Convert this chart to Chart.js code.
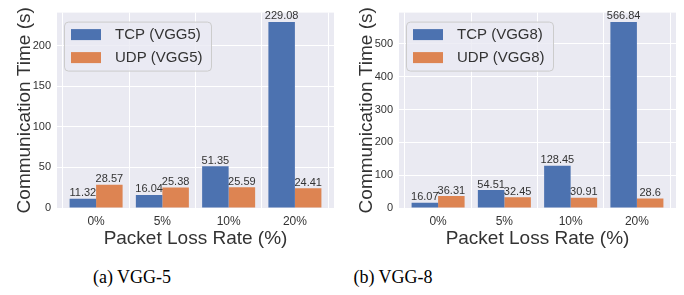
<!DOCTYPE html>
<html>
<head>
<meta charset="utf-8">
<script src="https://cdn.jsdelivr.net/npm/chart.js@4.4.1/dist/chart.umd.min.js"></script>
<style>
body { margin: 0; background: #fff; width: 684px; height: 295px; position: relative; overflow: hidden; }
.panel { position: absolute; top: 0; width: 342px; height: 252px; }
.cap { position: absolute; top: 267px; font-family: 'Liberation Serif', 'Times New Roman', serif; font-size: 18px; color: #000; transform: translateX(-50%); white-space: nowrap; }
</style>
</head>
<body>
<div class="panel" style="left:0"><canvas id="vgg5" width="342" height="252"></canvas></div>
<div class="panel" style="left:342px"><canvas id="vgg8" width="342" height="252"></canvas></div>
<div class="cap" style="left:132px">(a) VGG-5</div>
<div class="cap" style="left:393px">(b) VGG-8</div>
<script>
const categories = ['0%', '5%', '10%', '20%'];
const tcpVgg5 = [11.32, 16.04, 51.35, 229.08];
const udpVgg5 = [28.57, 25.38, 25.59, 24.41];
const tcpVgg8 = [16.07, 54.51, 128.45, 566.84];
const udpVgg8 = [36.31, 32.45, 30.91, 28.6];
const yTicksVgg5 = [0, 50, 100, 150, 200];
const yTicksVgg8 = [0, 100, 200, 300, 400, 500];

const FONT = "'Liberation Sans', Arial, sans-serif";
const TEXT = '#333333';

// seaborn-ish grey plot background
const bgPlugin = {
    id: 'bg',
    beforeDraw(chart) {
        const a = chart.chartArea;
        const ctx = chart.ctx;
        ctx.save();
        ctx.fillStyle = '#EAEAF2';
        ctx.fillRect(a.left, a.top, a.right - a.left, a.bottom - a.top);
        ctx.restore();
    }
};

// numbers above bars
const valuePlugin = {
    id: 'values',
    afterDatasetsDraw(chart) {
        const ctx = chart.ctx;
        ctx.save();
        ctx.font = '11px ' + FONT;
        ctx.fillStyle = TEXT;
        ctx.textAlign = 'center';
        ctx.textBaseline = 'bottom';
        chart.data.datasets.forEach((ds, i) => {
            chart.getDatasetMeta(i).data.forEach((bar, j) => {
                ctx.fillText(String(ds.data[j].y), bar.x, bar.y);
            });
        });
        ctx.restore();
    }
};

// legend drawn inside the plot, upper left
const legendPlugin = {
    id: 'innerLegend',
    afterDraw(chart) {
        const ctx = chart.ctx;
        const a = chart.chartArea;
        const x = a.left + 7, y = a.top + 9, w = 147, h = 49;
        ctx.save();
        ctx.fillStyle = 'rgba(234,234,242,0.8)';
        ctx.strokeStyle = '#cccccc';
        ctx.lineWidth = 1;
        ctx.beginPath();
        ctx.roundRect(x + 0.5, y + 0.5, w, h, 4);
        ctx.fill();
        ctx.stroke();
        ctx.font = '15px ' + FONT;
        ctx.textBaseline = 'middle';
        ctx.textAlign = 'left';
        chart.data.datasets.forEach((ds, i) => {
            const cy = y + 13 + i * 23;
            ctx.fillStyle = ds.backgroundColor;
            ctx.fillRect(x + 7, cy - 5.5, 30, 11);
            ctx.fillStyle = TEXT;
            ctx.fillText(ds.label, x + 51, cy);
        });
        ctx.restore();
    }
};

function makeChart(id, tcp, udp, tcpLabel, udpLabel, yMax, yTicks) {
    const ctx = document.getElementById(id).getContext('2d');
    const pts = arr => arr.map((v, i) => ({ x: i, y: v }));
    return new Chart(ctx, {
        type: 'bar',
        data: {
            datasets: [
                { label: tcpLabel, data: pts(tcp), backgroundColor: '#4C72B0' },
                { label: udpLabel, data: pts(udp), backgroundColor: '#DD8452' }
            ]
        },
        options: {
            responsive: false,
            animation: false,
            categoryPercentage: 0.8,
            barPercentage: 1,
            layout: { padding: { left: 13, right: 8, top: 3, bottom: 0 } },
            plugins: { legend: { display: false }, tooltip: { enabled: false } },
            scales: {
                x: {
                    type: 'linear',
                    offset: false,
                    min: -0.59,
                    max: 3.59,
                    grid: { color: '#ffffff', lineWidth: 1, drawTicks: false },
                    border: { display: false },
                    ticks: {
                        stepSize: 1,
                        includeBounds: false,
                        padding: 6,
                        color: TEXT,
                        font: { family: FONT, size: 12 },
                        callback: v => categories[v] ?? ''
                    },
                    title: { display: true, text: 'Packet Loss Rate (%)', color: TEXT, font: { family: FONT, size: 19 }, padding: { top: 0, bottom: 2 } },
                    afterFit(scale) { scale.height = 44; }
                },
                y: {
                    min: 0,
                    max: yMax,
                    grid: { color: '#ffffff', lineWidth: 1, drawTicks: false },
                    border: { display: false },
                    ticks: {
                        padding: 6,
                        color: TEXT,
                        font: { family: FONT, size: 11 }
                    },
                    afterBuildTicks(scale) { scale.ticks = yTicks.map(v => ({ value: v })); },
                    title: { display: true, text: 'Communication Time (s)', color: TEXT, font: { family: FONT, size: 19 }, padding: { top: 0, bottom: 0 } },
                    afterFit(scale) { scale.width = 44; }
                }
            }
        },
        plugins: [bgPlugin, valuePlugin, legendPlugin]
    });
}

makeChart('vgg5', tcpVgg5, udpVgg5, 'TCP (VGG5)', 'UDP (VGG5)', 240.5, yTicksVgg5);
makeChart('vgg8', tcpVgg8, udpVgg8, 'TCP (VGG8)', 'UDP (VGG8)', 595.2, yTicksVgg8);
</script>
</body>
</html>
